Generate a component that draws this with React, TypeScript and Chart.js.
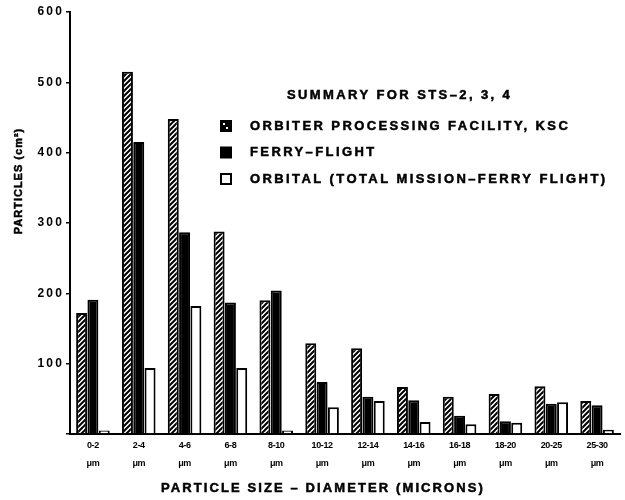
import React, { useEffect, useRef } from "react";
import { Chart, registerables } from "chart.js";

Chart.register(...registerables);

// ---- data ----
const sizeRanges = ["0-2", "2-4", "4-6", "6-8", "8-10", "10-12", "12-14", "14-16", "16-18", "18-20", "20-25", "25-30"];
const unitLabel = "μm";
const opfValues = [172, 515, 448, 288, 190, 129, 122, 67, 53, 57, 68, 47];
const ferryValues = [191, 415, 287, 187, 204, 74, 53, 48, 26, 18, 43, 41];
const orbitalValues = [5, 94, 182, 94, 5, 38, 47, 17, 14, 16, 45, 6];
const seriesLabels = [
  "ORBITER PROCESSING FACILITY, KSC",
  "FERRY\u2013FLIGHT",
  "ORBITAL (TOTAL MISSION\u2013FERRY FLIGHT)",
];
const legendTitle = "SUMMARY FOR STS\u20132, 3, 4";
const xTitle = "PARTICLE SIZE \u2013 DIAMETER (MICRONS)";
const yTitle = "PARTICLES (cm\u00B2)";
const yMin = 0;
const yMax = 600;
const yStep = 100;

const FONT = '"Liberation Sans", Arial, sans-serif';

function makeHatch(ctx: CanvasRenderingContext2D) {
  const s = 5;
  const c = document.createElement("canvas");
  c.width = s;
  c.height = s;
  const g = c.getContext("2d")!;
  g.fillStyle = "#fff";
  g.fillRect(0, 0, s, s);
  g.strokeStyle = "#000";
  g.lineWidth = 2;
  g.beginPath();
  g.moveTo(-1, s + 1);
  g.lineTo(s + 1, -1);
  g.moveTo(-s / 2 - 1, s / 2 + 1);
  g.lineTo(s / 2 + 1, -s / 2 - 1);
  g.moveTo(s / 2 - 1, s * 1.5 + 1);
  g.lineTo(s * 1.5 + 1, s / 2 - 1);
  g.stroke();
  return ctx.createPattern(c, "repeat")!;
}

function wrapLabels(scale: any, spacing: string) {
  if (scale.__wrapped) return;
  const orig = scale.drawLabels.bind(scale);
  scale.drawLabels = (ca: any) => {
    scale.ctx.save();
    scale.ctx.letterSpacing = spacing;
    orig(ca);
    scale.ctx.restore();
  };
  scale.__wrapped = true;
}

function heavyText(ctx: CanvasRenderingContext2D, text: string, x: number, y: number) {
  ctx.fillText(text, x, y);
  ctx.strokeText(text, x, y);
}

const annotationPlugin = {
  id: "annotations",
  afterDraw(chart: any) {
    const { ctx, chartArea: ca } = chart;
    ctx.save();
    ctx.fillStyle = "#000";
    ctx.strokeStyle = "#000";
    ctx.lineWidth = 0.5;
    ctx.textBaseline = "middle";
    ctx.textAlign = "left";
    ctx.font = `bold 13px ${FONT}`;
    ctx.letterSpacing = "2.4px";
    heavyText(ctx, legendTitle, ca.left + 217, ca.top + 83);

    chart.data.datasets.forEach((ds: any, i: number) => {
      const y = ca.top + 114 + i * 26.5;
      const bx = ca.left + 150;
      const size = 12;
      if (i === 0) {
        ctx.fillStyle = "#000";
        ctx.fillRect(bx, y - size / 2, size, size);
        ctx.fillStyle = "#fff";
        ctx.fillRect(bx + 3, y - 3, 2, 2);
        ctx.fillRect(bx + 6, y + 1, 2, 2);
      } else if (i === 1) {
        ctx.fillStyle = "#000";
        ctx.fillRect(bx, y - size / 2, size, size);
      } else {
        ctx.fillStyle = "#fff";
        ctx.fillRect(bx, y - size / 2, size, size);
        ctx.save();
        ctx.lineWidth = 2;
        ctx.strokeRect(bx + 1, y - size / 2 + 1, size - 2, size - 2);
        ctx.restore();
      }
      ctx.fillStyle = "#000";
      heavyText(ctx, ds.label, ca.left + 180, y);
    });

    // x-axis title
    ctx.textAlign = "center";
    ctx.letterSpacing = "2.1px";
    heavyText(ctx, xTitle, (ca.left + ca.right) / 2 - 22, 488);

    // y-axis title
    ctx.translate(19, 181);
    ctx.rotate(-Math.PI / 2);
    ctx.font = `bold 11px ${FONT}`;
    ctx.letterSpacing = "1px";
    heavyText(ctx, yTitle, 0, 0);
    ctx.restore();
  },
};

export default function App() {
  const ref = useRef<HTMLCanvasElement>(null);

  useEffect(() => {
    document.body.style.margin = "0";
    const canvas = ref.current!;
    const ctx = canvas.getContext("2d")!;
    const hatch = makeHatch(ctx);

    Chart.defaults.font.family = FONT;
    Chart.defaults.color = "#000";

    const chart = new Chart(canvas, {
      type: "bar",
      data: {
        labels: sizeRanges.map((r) => [r, unitLabel]),
        datasets: [
          {
            label: seriesLabels[0],
            data: opfValues,
            backgroundColor: hatch,
            borderColor: "#000",
            borderWidth: 2,
          },
          {
            label: seriesLabels[1],
            data: ferryValues,
            backgroundColor: "#000",
            borderColor: "#000",
            borderWidth: 2,
          },
          {
            label: seriesLabels[2],
            data: orbitalValues,
            backgroundColor: "#fff",
            borderColor: "#000",
            borderWidth: 2,
          },
        ],
      },
      options: {
        responsive: false,
        animation: false,
        layout: { padding: { top: 12, right: 5, left: 0, bottom: 0 } },
        datasets: {
          bar: {
            categoryPercentage: 0.74,
            barPercentage: 0.97,
          },
        },
        plugins: {
          legend: { display: false },
          tooltip: { enabled: false },
          title: { display: false },
        },
        scales: {
          x: {
            grid: { display: false, drawTicks: false },
            border: { display: true, color: "#000", width: 2 },
            ticks: {
              padding: 3,
              color: "#000",
              font: { size: 9, weight: "bold", lineHeight: 2 },
              maxRotation: 0,
              autoSkip: false,
            },
            afterFit: (scale: any) => {
              scale.height = 66;
              wrapLabels(scale, "-0.4px");
            },
          },
          y: {
            min: yMin,
            max: yMax,
            grid: {
              display: true,
              drawOnChartArea: false,
              drawTicks: true,
              tickLength: 4,
              color: "#000",
              lineWidth: 1.5,
            },
            border: { display: true, color: "#000", width: 2 },
            ticks: {
              stepSize: yStep,
              padding: 2,
              color: "#000",
              font: { size: 12, weight: "bold" },
              callback: (v: any) => (Number(v) === 0 ? "" : String(v)),
            },
            afterFit: (scale: any) => {
              scale.width = 70;
              wrapLabels(scale, "2.2px");
            },
          },
        },
      },
      plugins: [annotationPlugin],
    });

    return () => chart.destroy();
  }, []);

  return (
    <div style={{ width: 625, height: 500, background: "#fff" }}>
      <canvas ref={ref} width={625} height={500} style={{ width: 625, height: 500, display: "block" }} />
    </div>
  );
}
